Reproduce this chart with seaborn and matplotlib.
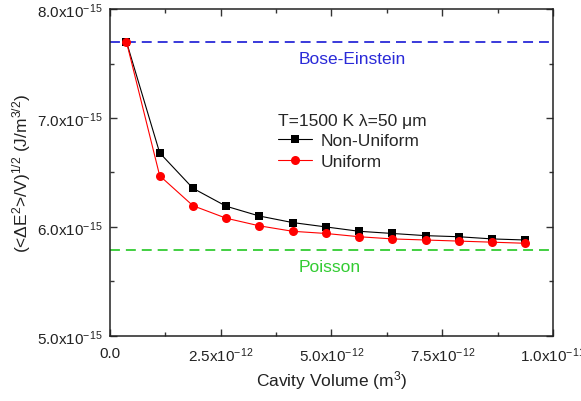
import numpy as np
import pandas as pd
import matplotlib
matplotlib.use("Agg")
import matplotlib.pyplot as plt
from matplotlib.ticker import FuncFormatter, MultipleLocator
import seaborn as sns

# ----------------------- data -----------------------------------------------
volume = [0.375e-12, 1.125e-12, 1.875e-12, 2.625e-12, 3.375e-12, 4.125e-12,
          4.875e-12, 5.625e-12, 6.375e-12, 7.125e-12, 7.875e-12, 8.625e-12,
          9.375e-12]
non_uniform = [7.70, 6.68, 6.355, 6.19, 6.10, 6.04, 6.00, 5.96, 5.94, 5.92,
               5.91, 5.89, 5.88]
uniform = [7.70, 6.47, 6.195, 6.08, 6.01, 5.96, 5.94, 5.91, 5.89, 5.88,
           5.87, 5.86, 5.85]
bose_einstein = 7.70
poisson = 5.79
scale = 1e-15

df = pd.DataFrame({
    "volume": volume * 2,
    "value": [v * scale for v in non_uniform] + [v * scale for v in uniform],
    "series": ["Non-Uniform"] * len(volume) + ["Uniform"] * len(volume),
})

# ----------------------- style ----------------------------------------------
sns.set_theme(style="ticks")
plt.rcParams["font.family"] = ["Liberation Sans", "DejaVu Sans"]
plt.rcParams["mathtext.fontset"] = "custom"
plt.rcParams["mathtext.rm"] = "Liberation Sans"
plt.rcParams["mathtext.it"] = "Liberation Sans:italic"
plt.rcParams["xtick.direction"] = "in"
plt.rcParams["ytick.direction"] = "in"


def sci_fmt(val, pos):
    if val == 0:
        return "0.0"
    exp = int(np.floor(np.log10(abs(val)) + 1e-9))
    mant = val / 10 ** exp
    return r"$\mathregular{%.1fx10^{%d}}$" % (mant, exp)


fig = plt.figure(figsize=(5.81, 4.02), dpi=100)
ax = fig.add_axes([0.189, 0.162, 0.763, 0.813])

ax.axhline(bose_einstein * scale, color="#2a2ad8", lw=1.3, ls=(0, (5.5, 3.3)))
ax.axhline(poisson * scale, color="#33cc33", lw=1.3, ls=(0, (5.5, 3.3)))

sns.lineplot(data=df[df.series == "Non-Uniform"], x="volume", y="value",
             color="black", marker="s", markersize=5.5, markeredgewidth=0,
             lw=0.8, label="Non-Uniform", ax=ax)
sns.lineplot(data=df[df.series == "Uniform"], x="volume", y="value",
             color="#ff0000", marker="o", markersize=6.5, markeredgewidth=0,
             lw=0.8, label="Uniform", ax=ax)

ax.set_xlim(0, 1.0e-11)
ax.set_ylim(5.0e-15, 8.0e-15)
ax.xaxis.set_major_locator(MultipleLocator(2.5e-12))
ax.xaxis.set_minor_locator(MultipleLocator(1.25e-12))
ax.yaxis.set_major_locator(MultipleLocator(1.0e-15))
ax.yaxis.set_minor_locator(MultipleLocator(0.5e-15))
ax.xaxis.set_major_formatter(FuncFormatter(sci_fmt))
ax.yaxis.set_major_formatter(FuncFormatter(sci_fmt))
ax.tick_params(which="both", top=True, right=True, color="#333333", width=1.0,
               labelsize=11, labelcolor="#222222")
ax.tick_params(axis="x", pad=7)
ax.tick_params(axis="y", pad=5)
ax.tick_params(which="major", length=5)
ax.tick_params(which="minor", length=3)
for s in ax.spines.values():
    s.set_linewidth(1.1)
    s.set_color("#222222")

ax.set_xlabel(r"Cavity Volume (m$^{3}$)", fontsize=12.5, color="#222222",
              labelpad=3)
ax.set_ylabel(r"(<$\Delta$E$^{2}$>/V)$^{1/2}$ (J/m$^{3/2}$)", fontsize=12.5,
              color="#222222", labelpad=3)

ax.text(0.425, 0.848, "Bose-Einstein", transform=ax.transAxes, color="#2a2ad8",
        fontsize=12.5, va="center")
ax.text(0.425, 0.213, "Poisson", transform=ax.transAxes, color="#33cc33",
        fontsize=12.5, va="center")

leg = ax.legend(loc="upper left", bbox_to_anchor=(0.363, 0.703), frameon=False,
                title="T=1500 K λ=50 μm", fontsize=12.5,
                title_fontsize=12.5, handlelength=2.0, handletextpad=0.5,
                labelspacing=0.3, borderaxespad=0)
leg._legend_box.align = "left"

fig.savefig("out.png", dpi=100)
